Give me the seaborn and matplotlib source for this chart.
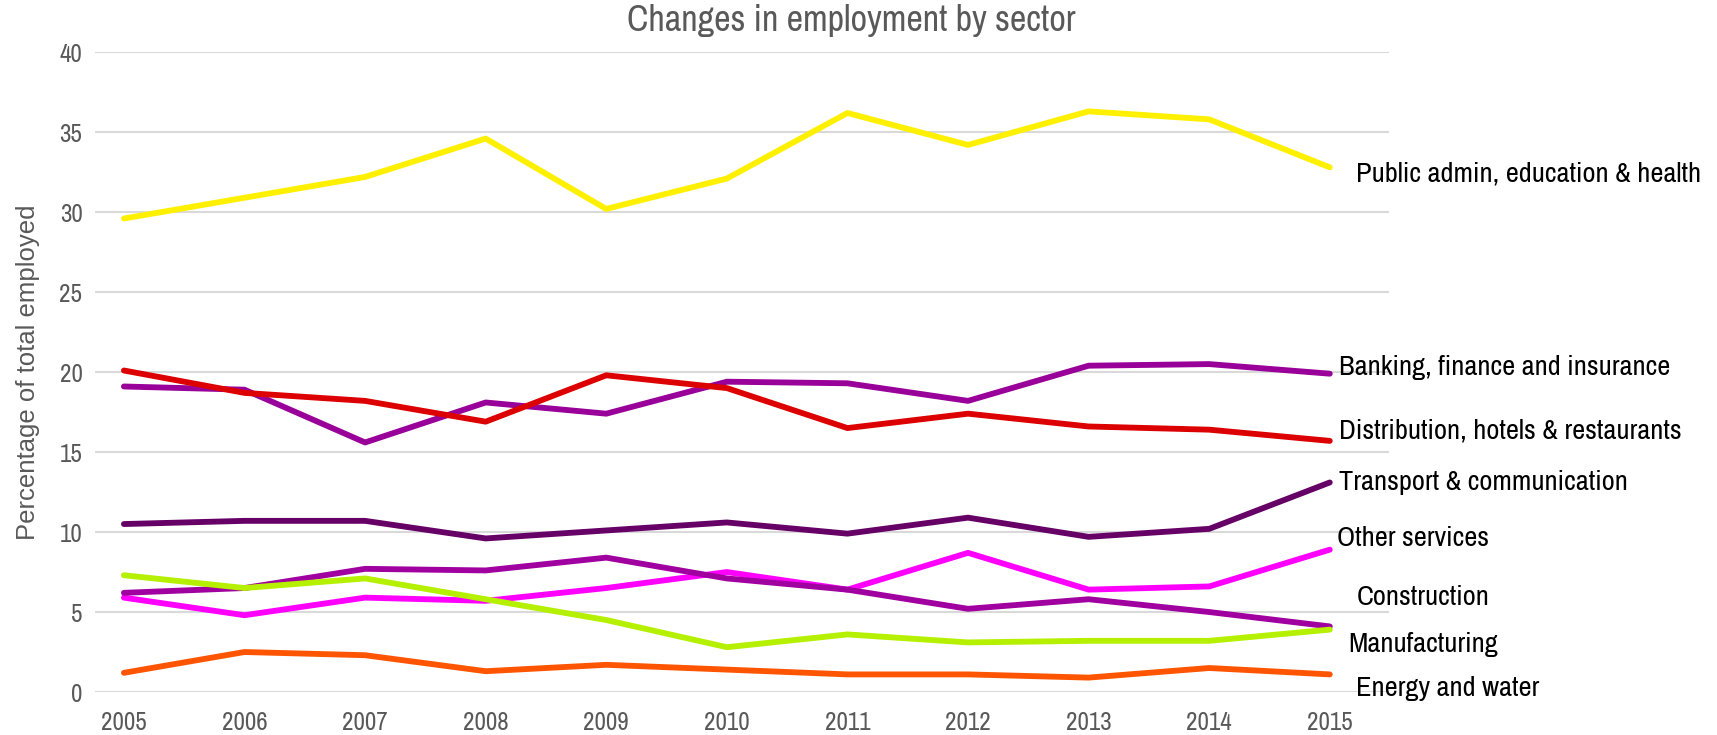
import pandas as pd
import numpy as np
import matplotlib
matplotlib.use("Agg")
import matplotlib.pyplot as plt
from matplotlib import font_manager
import seaborn as sns

years = [2005, 2006, 2007, 2008, 2009, 2010, 2011, 2012, 2013, 2014, 2015]

public_admin = [29.6, 30.9, 32.2, 34.6, 30.2, 32.1, 36.2, 34.2, 36.3, 35.8, 32.8]
banking = [19.1, 18.9, 15.6, 18.1, 17.4, 19.4, 19.3, 18.2, 20.4, 20.5, 19.9]
distribution = [20.1, 18.7, 18.2, 16.9, 19.8, 19.0, 16.5, 17.4, 16.6, 16.4, 15.7]
transport = [10.5, 10.7, 10.7, 9.6, 10.1, 10.6, 9.9, 10.9, 9.7, 10.2, 13.1]
other_services = [5.9, 4.8, 5.9, 5.7, 6.5, 7.5, 6.4, 8.7, 6.4, 6.6, 8.9]
construction = [6.2, 6.5, 7.7, 7.6, 8.4, 7.1, 6.4, 5.2, 5.8, 5.0, 4.1]
manufacturing = [7.3, 6.5, 7.1, 5.8, 4.5, 2.8, 3.6, 3.1, 3.2, 3.2, 3.9]
energy = [1.2, 2.5, 2.3, 1.3, 1.7, 1.4, 1.1, 1.1, 0.9, 1.5, 1.1]

sectors = ["Public admin, education & health", "Banking, finance and insurance",
           "Distribution, hotels & restaurants", "Transport & communication",
           "Other services", "Construction", "Manufacturing", "Energy and water"]
series = [public_admin, banking, distribution, transport,
          other_services, construction, manufacturing, energy]
colors = ["#FFF000", "#990099", "#DD0000", "#660066",
          "#FF00FF", "#A000A0", "#B4F000", "#FF5500"]

# label anchor (x, y) in data units, placed by eye next to the line ends
label_pos = [(2015.22, 32.4), (2015.08, 20.3), (2015.08, 16.3), (2015.08, 13.1),
             (2015.06, 9.6), (2015.22, 5.9), (2015.15, 3.0), (2015.22, 0.2)]

df = pd.DataFrame({
    "year": np.tile(years, len(sectors)),
    "value": np.concatenate(series),
    "sector": np.repeat(sectors, len(years)),
})

# look for a narrow sans if one is around, else plain Liberation Sans
names = sorted({f.name for f in font_manager.fontManager.ttflist})
cond = [n for n in names if "Narrow" in n or "Condensed" in n]
narrow_name = cond[0] if cond else "Liberation Sans"

sns.set_style("white")
narrow = [narrow_name, "DejaVu Sans"]
regular = ["Liberation Sans", "DejaVu Sans"]
k = 1.0 if cond else 0.8

fig = plt.figure(figsize=(17.17, 7.35), dpi=100)
ax = fig.add_axes([0.0553, 0.0585, 0.7536, 0.8705])

for y in range(0, 41, 5):
    ax.axhline(y, color="#d9d9d9", lw=1.5, zorder=0)

sns.lineplot(data=df, x="year", y="value", hue="sector", hue_order=sectors,
             palette=colors, linewidth=4.2, legend=False, ax=ax,
             solid_capstyle="round")

for name, (lx, ly) in zip(sectors, label_pos):
    ax.text(lx, ly, name, fontsize=20.5 * k, color="black", va="center", ha="left",
            family=narrow, clip_on=False)

ax.set_xlim(2004.76, 2015.49)
ax.set_ylim(0, 40)
ax.set_xticks(years)
ax.set_yticks(range(0, 41, 5))
ax.set_xticklabels([str(y) for y in years], family=narrow, fontsize=18 * k, color="#595959")
ax.set_yticklabels([str(y) for y in range(0, 41, 5)], family=narrow, fontsize=18 * k, color="#595959")
ax.tick_params(axis="x", length=0, pad=14)
ax.tick_params(axis="y", length=0, pad=9)
ax.set_xlabel("")
ax.set_ylabel("Percentage of total employed", fontsize=18.5, color="#595959",
              family=regular, labelpad=14)
sns.despine(ax=ax, left=True, bottom=True)

fig.text(0.496, 0.972, "Changes in employment by sector", ha="center", va="center",
         fontsize=26 * k, color="#595959", family=narrow)

fig.savefig("out.png", dpi=100)
